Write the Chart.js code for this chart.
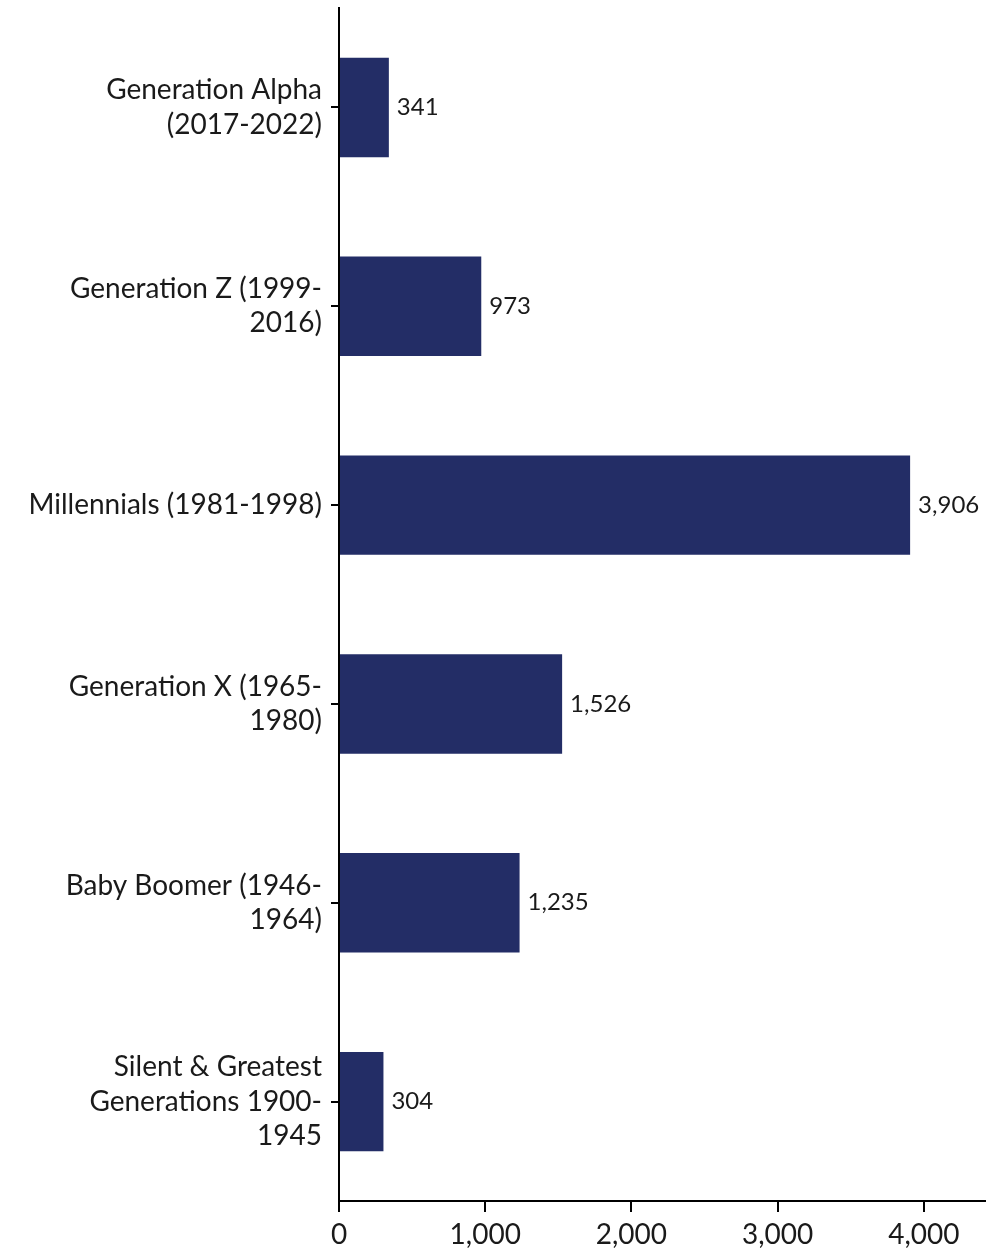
<!DOCTYPE html>
<html>
<head>
<meta charset="utf-8">
<script src="https://cdn.jsdelivr.net/npm/chart.js@4/dist/chart.umd.min.js"></script>
<style>
    body { margin: 0; background: #fff; }
    #chart { display: block; }
</style>
</head>
<body>
<canvas id="chart" width="986" height="1252"></canvas>
<script>
const generations = [
    ['Generation Alpha', '(2017-2022)'],
    ['Generation Z (1999-', '2016)'],
    ['Millennials (1981-1998)'],
    ['Generation X (1965-', '1980)'],
    ['Baby Boomer (1946-', '1964)'],
    ['Silent & Greatest', 'Generations 1900-', '1945']
];
const counts = [341, 973, 3906, 1526, 1235, 304];
const xTicks = [0, 1000, 2000, 3000, 4000];
const axisMax = 4425;

const FONT = 'Lato, "Noto Sans", sans-serif';
const fmt = new Intl.NumberFormat('en-US');

// labels to the right of each bar
const valueLabels = {
    id: 'valueLabels',
    afterDatasetsDraw(chart) {
        const ctx = chart.ctx;
        const meta = chart.getDatasetMeta(0);
        ctx.save();
        ctx.font = '24px ' + FONT;
        ctx.fillStyle = '#1a1a1a';
        ctx.textAlign = 'left';
        ctx.textBaseline = 'middle';
        meta.data.forEach((bar, i) => {
            ctx.fillText(fmt.format(counts[i]), bar.x + 8, bar.y);
        });
        ctx.restore();
    }
};

new Chart(document.getElementById('chart'), {
    type: 'bar',
    data: {
        labels: generations,
        datasets: [{
            data: counts,
            backgroundColor: '#232d66',
            borderWidth: 0,
            categoryPercentage: 1,
            barPercentage: 0.5
        }]
    },
    options: {
        indexAxis: 'y',
        responsive: false,
        animation: false,
        locale: 'en-US',
        layout: { padding: { top: 8, right: 0, bottom: 0, left: 0 } },
        plugins: {
            legend: { display: false },
            tooltip: { enabled: false }
        },
        scales: {
            x: {
                min: 0,
                max: axisMax,
                border: { display: true, color: '#000', width: 2 },
                grid: { display: true, drawOnChartArea: false, drawTicks: true, tickLength: 11, color: '#000', lineWidth: 2 },
                ticks: {
                    padding: 6,
                    color: '#1a1a1a',
                    font: { family: FONT, size: 28 }
                },
                afterBuildTicks(scale) {
                    scale.ticks = xTicks.map(v => ({ value: v }));
                },
                afterFit(scale) {
                    scale.height = 51;
                    scale.paddingRight = 0;
                }
            },
            y: {
                border: { display: true, color: '#000', width: 2 },
                grid: { display: true, offset: false, drawOnChartArea: false, drawTicks: true, tickLength: 8, color: '#000', lineWidth: 2 },
                ticks: {
                    padding: 9,
                    color: '#1a1a1a',
                    font: { family: FONT, size: 28, lineHeight: 1.22 }
                },
                afterFit(scale) {
                    scale.width = 339;
                    scale.paddingTop = 0;
                    scale.paddingBottom = 0;
                }
            }
        }
    },
    plugins: [valueLabels]
});
</script>
</body>
</html>
